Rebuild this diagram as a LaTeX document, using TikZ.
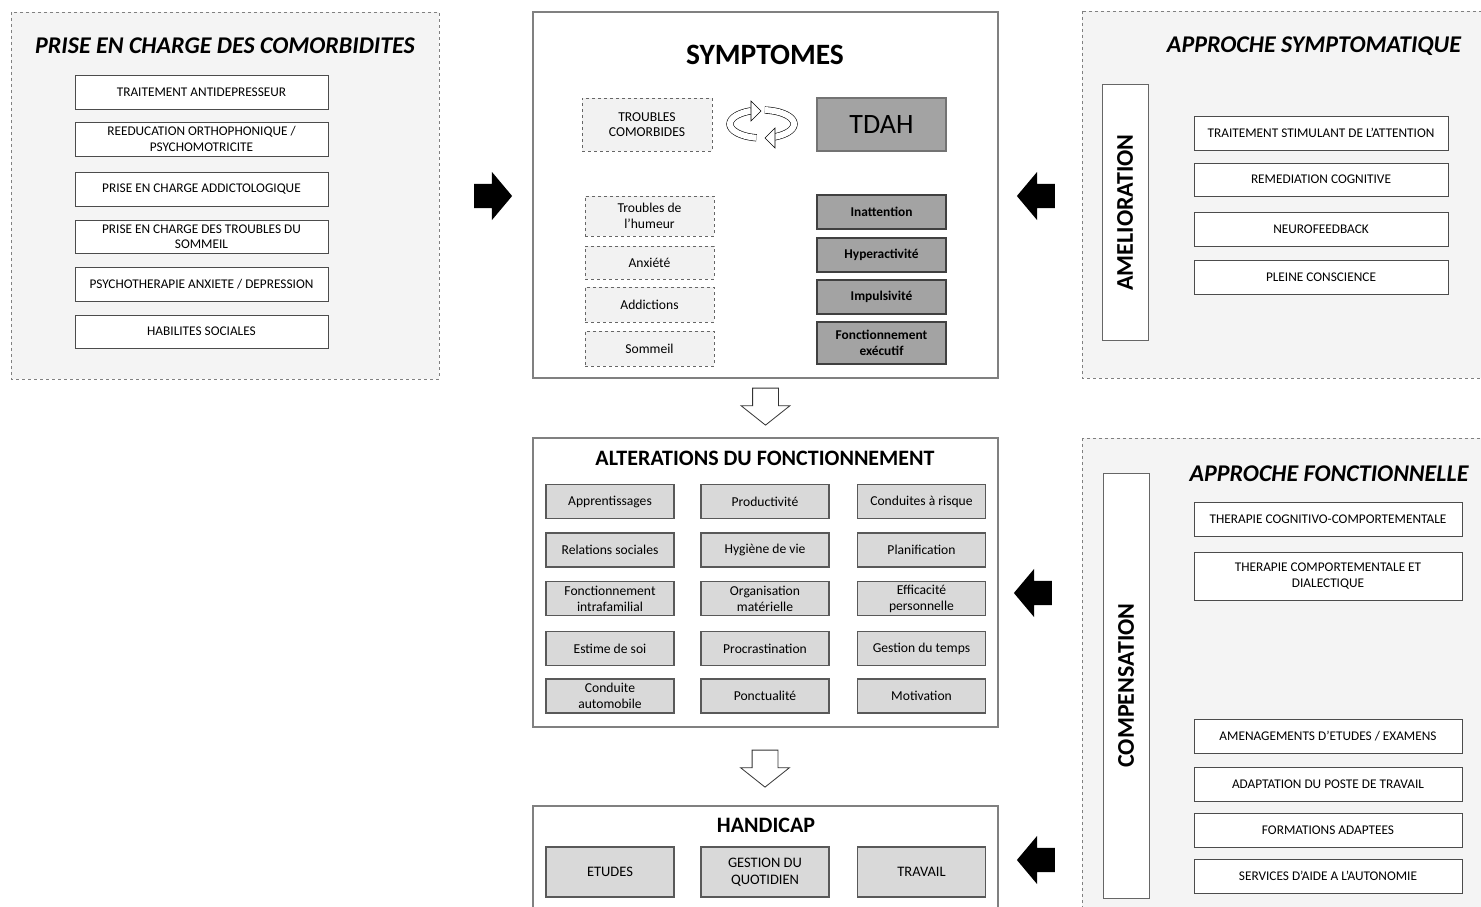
\documentclass[tikz,border=0pt]{standalone}
\usepackage{fontspec}
\setmainfont{Carlito}
\usepackage{xcolor}
\usetikzlibrary{shapes.arrows,positioning,calc}

\definecolor{panelfill}{HTML}{F4F4F4}
\definecolor{lightfill}{HTML}{F2F2F2}
\definecolor{midfill}{HTML}{D9D9D9}
\definecolor{darkfill}{HTML}{A3A3A3}

\begin{document}
\begin{tikzpicture}[x=1pt,y=-1pt,
  sidepanel/.style={draw=black!50, dashed, fill=panelfill, line width=0.8pt},
  mainpanel/.style={draw=black!50, fill=white, line width=1.3pt},
  paneltitle/.style={font=\fontsize{24}{28}\selectfont\bfseries\itshape},
  blocktitle/.style={font=\fontsize{22}{25}\selectfont\bfseries},
  whitebox/.style={draw=black!70, fill=white, line width=1pt, align=center, inner sep=0pt,
    font=\fontsize{13.3}{15.5}\selectfont},
  dashbox/.style={draw=black!60, dashed, fill=lightfill, line width=0.8pt, align=center, inner sep=0pt,
    minimum width=129pt, font=\fontsize{13.6}{15.5}\selectfont},
  darkbox/.style={draw=black!75, fill=darkfill, line width=1.6pt, align=center, inner sep=0pt,
    minimum width=129pt, font=\fontsize{13.4}{15.5}\selectfont\bfseries},
  greybox/.style={draw=black!65, fill=midfill, line width=1.2pt, align=center, inner sep=0pt,
    minimum width=128pt, minimum height=34pt, font=\fontsize{13.6}{15.8}\selectfont},
  sidebar/.style={draw=black!60, fill=white, line width=1pt, rotate=90, minimum height=46pt,
    font=\fontsize{24}{28}\selectfont\bfseries},
  blackarrow/.style={single arrow, fill=black, draw=none, inner xsep=0pt, inner ysep=12pt,
    text height=0pt, text depth=0pt, minimum height=38pt, single arrow head extend=12pt,
    single arrow tip angle=100},
  hollowarrow/.style={single arrow, fill=white, draw=black!80, line width=0.8pt, inner ysep=0pt,
    inner xsep=12.5pt, text height=0pt, text depth=0pt, minimum height=37pt,
    single arrow head extend=11.5pt, single arrow tip angle=103, shape border rotate=270},
  ribbon/.style={draw=black, line width=0.6pt, double=white, double distance=6pt},
  ribbontip/.style={draw=black, fill=white, line width=0.6pt, line join=miter}
]
\useasboundingbox (0,0) rectangle (1481,907);
\clip (0,0) rectangle (1481,907);

% panneaux
\draw[sidepanel] (11,12) rectangle (439,379);
\draw[mainpanel] (533,12) rectangle (998,378);
\draw[mainpanel] (533,438) rectangle (998,727);
\draw[mainpanel] (533,806) rectangle (998,930);
\draw[sidepanel] (1082,11) rectangle (1500,378);
\draw[sidepanel] (1082,438) rectangle (1500,930);

% prise en charge des comorbidites
\node[paneltitle] (comtitle) at (225,46) {PRISE EN CHARGE DES COMORBIDITES};
\node[whitebox, minimum width=253pt, minimum height=33pt] (com1) at (201.5,92.5) {TRAITEMENT ANTIDEPRESSEUR};
\node[whitebox, minimum width=253pt, minimum height=34pt] (com2) at (201.5,139) {REEDUCATION ORTHOPHONIQUE /\\PSYCHOMOTRICITE};
\node[whitebox, minimum width=253pt, minimum height=34pt] (com3) at (201.5,189) {PRISE EN CHARGE ADDICTOLOGIQUE};
\node[whitebox, minimum width=253pt, minimum height=33pt] (com4) at (201.5,236.5) {PRISE EN CHARGE DES TROUBLES DU\\SOMMEIL};
\node[whitebox, minimum width=253pt, minimum height=34pt] (com5) at (201.5,284) {PSYCHOTHERAPIE ANXIETE / DEPRESSION};
\node[whitebox, minimum width=253pt, minimum height=33pt] (com6) at (201.5,331.5) {HABILITES SOCIALES};

% symptomes
\node[font=\fontsize{29.5}{33}\selectfont\bfseries] (symtitle) at (765,55) {SYMPTOMES};
\node[dashbox, minimum width=130pt, minimum height=53pt] (comorb) at (647,124.5) {TROUBLES\\COMORBIDES};
\node[draw=black!55, fill=darkfill, line width=1.2pt, minimum width=129pt, minimum height=53pt,
  font=\fontsize{28}{32}\selectfont] (tdah) at (881.5,124.5) {TDAH};
\node[dashbox, minimum height=40pt] (humeur) at (649.5,216) {Troubles de\\l’humeur};
\node[dashbox, minimum height=33pt] (anxiete) at (649.5,262.5) {Anxiété};
\node[dashbox, minimum height=35pt] (addict) at (649.5,304.5) {Addictions};
\node[dashbox, minimum height=35pt] (sommeil) at (649.5,348.5) {Sommeil};
\node[darkbox, minimum height=34pt] (inatt) at (881.5,212) {Inattention};
\node[darkbox, minimum height=34pt] (hyper) at (881.5,255) {Hyperactivité};
\node[darkbox, minimum height=34pt] (impuls) at (881.5,297) {Impulsivité};
\node[darkbox, minimum height=42pt] (fexec) at (881.5,343) {Fonctionnement\\exécutif};

% cycle entre troubles comorbides et TDAH
\draw[ribbon] plot[domain=100:250, samples=40] ({762+32*cos(\x)},{124+14*sin(\x)});
\draw[ribbontip] (751,101) -- (761,111) -- (751,121) -- cycle;
\draw[ribbon] plot[domain=-85:70, samples=40] ({762+32*cos(\x)},{124+14*sin(\x)});
\draw[ribbontip] (775,128) -- (765,138) -- (775,148) -- cycle;

% alterations du fonctionnement
\node[blocktitle] (alttitle) at (765,458) {ALTERATIONS DU FONCTIONNEMENT};
\node[greybox] (a11) at (610,501.5) {Apprentissages};
\node[greybox] (a12) at (765,501.5) {Productivité};
\node[greybox] (a13) at (921.5,501.5) {Conduites à risque};
\node[greybox] (a21) at (610,550) {Relations sociales};
\node[greybox] (a22) at (765,550) {Hygiène de vie};
\node[greybox] (a23) at (921.5,550) {Planification};
\node[greybox] (a31) at (610,598.5) {Fonctionnement\\intrafamilial};
\node[greybox] (a32) at (765,598.5) {Organisation\\matérielle};
\node[greybox] (a33) at (921.5,598.5) {Efficacité\\personnelle};
\node[greybox] (a41) at (610,648.5) {Estime de soi};
\node[greybox] (a42) at (765,648.5) {Procrastination};
\node[greybox] (a43) at (921.5,648.5) {Gestion du temps};
\node[greybox] (a51) at (610,696) {Conduite\\automobile};
\node[greybox] (a52) at (765,696) {Ponctualité};
\node[greybox] (a53) at (921.5,696) {Motivation};

% handicap
\node[blocktitle] (handtitle) at (766,825) {HANDICAP};
\node[greybox, minimum height=50pt, font=\fontsize{14.5}{17.5}\selectfont] (etudes) at (610,872) {ETUDES};
\node[greybox, minimum height=50pt, font=\fontsize{14.5}{17.5}\selectfont] (quotid) at (765,872) {GESTION DU\\QUOTIDIEN};
\node[greybox, minimum height=50pt, font=\fontsize{14.5}{17.5}\selectfont] (travail) at (921.5,872) {TRAVAIL};

% approche symptomatique
\node[paneltitle] (symptitle) at (1314,46) {APPROCHE SYMPTOMATIQUE};
\node[sidebar, minimum width=255pt] (amelio) at (1125,212.5) {AMELIORATION};
\node[whitebox, minimum width=254pt, minimum height=34pt] (s1) at (1321,133) {TRAITEMENT STIMULANT DE L’ATTENTION};
\node[whitebox, minimum width=254pt, minimum height=33pt] (s2) at (1321,179.5) {REMEDIATION COGNITIVE};
\node[whitebox, minimum width=254pt, minimum height=34pt] (s3) at (1321,229) {NEUROFEEDBACK};
\node[whitebox, minimum width=254pt, minimum height=34pt] (s4) at (1321,277) {PLEINE CONSCIENCE};

% approche fonctionnelle
\node[paneltitle] (fonctitle) at (1329,474) {APPROCHE FONCTIONNELLE};
\node[sidebar, minimum width=425pt] (compens) at (1126,685.5) {COMPENSATION};
\node[whitebox, minimum width=268pt, minimum height=34pt] (f1) at (1328,519) {THERAPIE COGNITIVO-COMPORTEMENTALE};
\node[whitebox, minimum width=268pt, minimum height=48pt] (f2) at (1328,576) {THERAPIE COMPORTEMENTALE ET\\DIALECTIQUE};
\node[whitebox, minimum width=268pt, minimum height=34pt] (f3) at (1328,736) {AMENAGEMENTS D’ETUDES / EXAMENS};
\node[whitebox, minimum width=268pt, minimum height=34pt] (f4) at (1328,784) {ADAPTATION DU POSTE DE TRAVAIL};
\node[whitebox, minimum width=268pt, minimum height=34pt] (f5) at (1328,830) {FORMATIONS ADAPTEES};
\node[whitebox, minimum width=268pt, minimum height=34pt] (f6) at (1328,876) {SERVICES D’AIDE A L’AUTONOMIE};

% fleches
\node[blackarrow] (arrcom) at (488,196) {};
\node[blackarrow, shape border rotate=180] (arrsymp) at (1041,196) {};
\node[blackarrow, shape border rotate=180] (arrfonc) at (1038,593) {};
\node[blackarrow, shape border rotate=180] (arrhand) at (1041,860) {};
\node[hollowarrow] (down1) at (765.5,401.5) {};
\node[hollowarrow] (down2) at (765,763.5) {};
\end{tikzpicture}
\end{document}
